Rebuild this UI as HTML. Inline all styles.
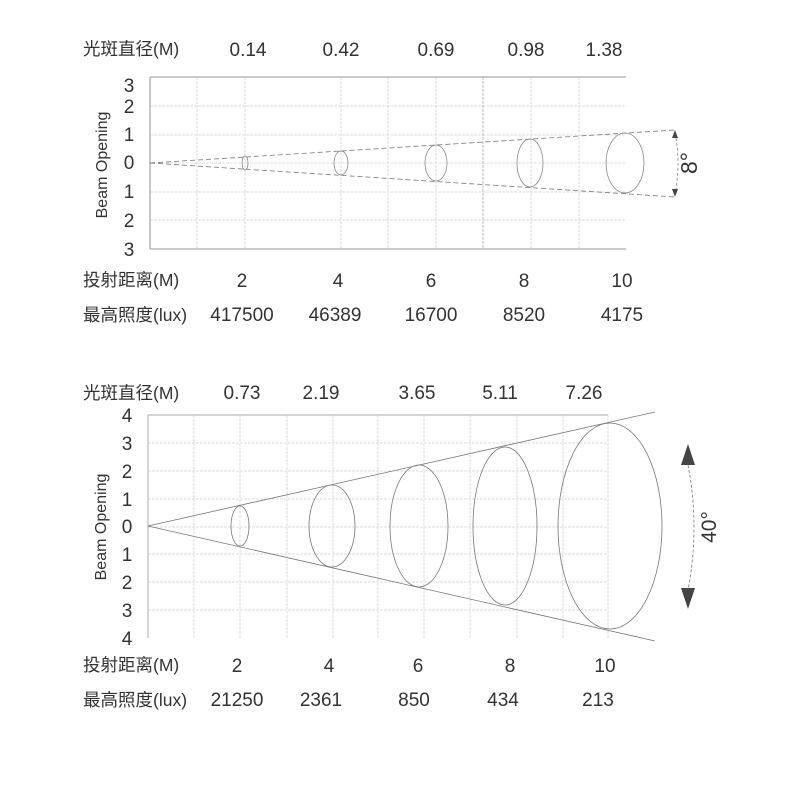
<!DOCTYPE html>
<html><head><meta charset="utf-8"><style>
body{margin:0;background:#fff}
svg text{font-family:"Liberation Sans","Noto Sans CJK SC",sans-serif;fill:#333}
</style></head><body>
<svg width="800" height="788" viewBox="0 0 800 788" xmlns="http://www.w3.org/2000/svg">
<!-- TOP CHART -->
<g font-size="19" text-anchor="middle">
<text x="83" y="55" text-anchor="start" font-size="17.5">光斑直径(M)</text>
<text x="248" y="56">0.14</text><text x="341" y="56">0.42</text><text x="436" y="56">0.69</text><text x="526" y="56">0.98</text><text x="604" y="56">1.38</text>
<text x="83" y="286" text-anchor="start" font-size="17.5">投射距离(M)</text>
<text x="242" y="287">2</text><text x="338" y="287">4</text><text x="431" y="287">6</text><text x="524" y="287">8</text><text x="622" y="287">10</text>
<text x="83" y="321" text-anchor="start" font-size="17.5">最高照度(lux)</text>
<text x="242" y="321">417500</text><text x="335" y="321">46389</text><text x="431" y="321">16700</text><text x="524" y="321">8520</text><text x="622" y="321">4175</text>
</g>
<g font-size="19" text-anchor="middle">
<text x="129" y="92">3</text><text x="129" y="113">2</text><text x="129" y="141">1</text><text x="129" y="169">0</text><text x="129" y="198">1</text><text x="129" y="227">2</text><text x="129" y="256">3</text>
</g>
<text transform="translate(107,165) rotate(-90)" font-size="16" text-anchor="middle">Beam Opening</text>
<g stroke="#ddd" stroke-width="1" stroke-dasharray="3,1">
<line x1="150" y1="106" x2="625" y2="106"/><line x1="150" y1="135" x2="625" y2="135"/><line x1="150" y1="163" x2="625" y2="163"/><line x1="150" y1="192" x2="625" y2="192"/><line x1="150" y1="220" x2="625" y2="220"/>
<line x1="197" y1="77" x2="197" y2="249"/><line x1="245" y1="77" x2="245" y2="249"/><line x1="341" y1="77" x2="341" y2="249"/><line x1="388" y1="77" x2="388" y2="249"/><line x1="436" y1="77" x2="436" y2="249"/><line x1="483" y1="77" x2="483" y2="249" stroke="#bbb"/><line x1="531" y1="77" x2="531" y2="249"/><line x1="579" y1="77" x2="579" y2="249"/>
</g>
<g stroke="#aaa" stroke-width="1.3" fill="none">
<line x1="150" y1="77" x2="626" y2="77"/><line x1="150" y1="249" x2="626" y2="249"/><line x1="150" y1="77" x2="150" y2="249"/>
</g>
<g stroke="#777" stroke-width="0.8" fill="none" stroke-dasharray="5,3">
<line x1="150" y1="163" x2="675" y2="130"/><line x1="150" y1="163" x2="675" y2="197"/>
</g>
<g stroke="#888" stroke-width="0.8" fill="none">
<ellipse cx="245" cy="163" rx="3" ry="7"/><ellipse cx="341" cy="163" rx="7" ry="12"/><ellipse cx="436" cy="163" rx="11" ry="18"/><ellipse cx="530" cy="163" rx="13" ry="24"/><ellipse cx="625" cy="163" rx="19" ry="30"/>
<path d="M675,133 Q681,163 675,194" stroke-dasharray="3,2"/>
</g>
<polygon points="672,138 675,130 678,138" fill="#444"/><polygon points="672,189 675,197 678,189" fill="#444"/>
<text transform="translate(697,163) rotate(-90)" font-size="23" text-anchor="middle">8°</text>

<!-- BOTTOM CHART -->
<g font-size="19" text-anchor="middle">
<text x="83" y="399" text-anchor="start" font-size="17.5">光斑直径(M)</text>
<text x="242" y="399">0.73</text><text x="321" y="399">2.19</text><text x="417" y="399">3.65</text><text x="500" y="399">5.11</text><text x="584" y="399">7.26</text>
<text x="83" y="671" text-anchor="start" font-size="17.5">投射距离(M)</text>
<text x="237" y="672">2</text><text x="329" y="672">4</text><text x="418" y="672">6</text><text x="510" y="672">8</text><text x="605" y="672">10</text>
<text x="83" y="706" text-anchor="start" font-size="17.5">最高照度(lux)</text>
<text x="237" y="706">21250</text><text x="321" y="706">2361</text><text x="414" y="706">850</text><text x="503" y="706">434</text><text x="598" y="706">213</text>
</g>
<g font-size="19" text-anchor="middle">
<text x="127" y="422">4</text><text x="127" y="450">3</text><text x="127" y="478">2</text><text x="127" y="506">1</text><text x="127" y="533">0</text><text x="127" y="561">1</text><text x="127" y="589">2</text><text x="127" y="617">3</text><text x="127" y="645">4</text>
</g>
<text transform="translate(106,527) rotate(-90)" font-size="16" text-anchor="middle">Beam Opening</text>
<g stroke="#ddd" stroke-width="1" stroke-dasharray="3,1">
<line x1="148" y1="443" x2="608" y2="443"/><line x1="148" y1="471" x2="608" y2="471"/><line x1="148" y1="499" x2="608" y2="499"/><line x1="148" y1="527" x2="608" y2="527"/><line x1="148" y1="554" x2="608" y2="554"/><line x1="148" y1="582" x2="608" y2="582"/><line x1="148" y1="610" x2="608" y2="610"/>
<line x1="194" y1="415" x2="194" y2="638"/><line x1="240" y1="415" x2="240" y2="638"/><line x1="287" y1="415" x2="287" y2="638"/><line x1="333" y1="415" x2="333" y2="638"/><line x1="378" y1="415" x2="378" y2="638"/><line x1="424" y1="415" x2="424" y2="638"/><line x1="470" y1="415" x2="470" y2="638"/><line x1="517" y1="415" x2="517" y2="638"/><line x1="563" y1="415" x2="563" y2="638"/><line x1="608" y1="415" x2="608" y2="638"/>
</g>
<g stroke="#bbb" stroke-width="1.2" fill="none">
<line x1="148" y1="415" x2="608" y2="415"/><line x1="148" y1="415" x2="148" y2="638"/>
</g>
<g stroke="#777" stroke-width="0.8" fill="none">
<line x1="148" y1="526" x2="655" y2="412"/><line x1="148" y1="526" x2="655" y2="641"/>
<ellipse cx="240" cy="526" rx="9" ry="20"/><ellipse cx="332" cy="526" rx="23" ry="41"/><ellipse cx="419" cy="526" rx="29" ry="61"/><ellipse cx="505" cy="526" rx="32" ry="79"/><ellipse cx="610" cy="526" rx="52" ry="103"/>
<path d="M688,465 Q700,527 688,590" stroke-dasharray="3,2"/>
</g>
<polygon points="681,465 688,444 695,465" fill="#444"/><polygon points="681,588 688,609 695,588" fill="#444"/>
<text transform="translate(716,527) rotate(-90)" font-size="21" text-anchor="middle">40°</text>
</svg>
</body></html>
